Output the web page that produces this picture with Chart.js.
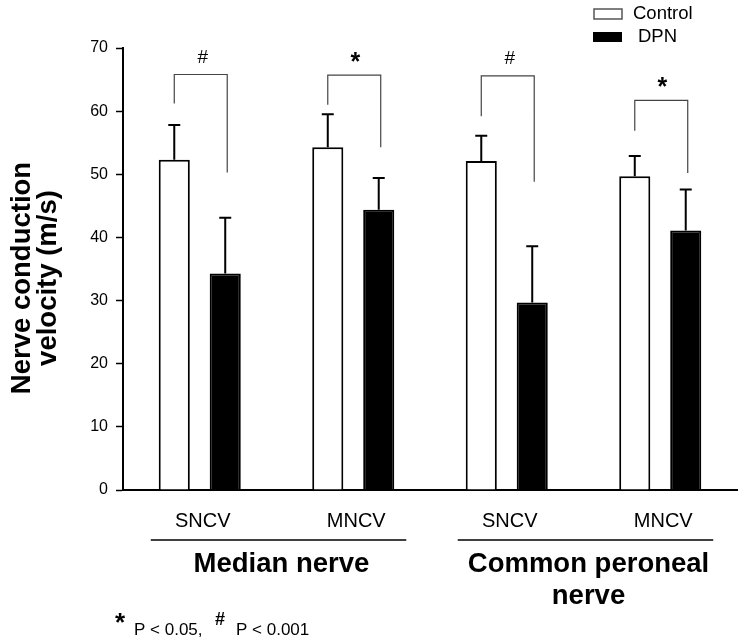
<!DOCTYPE html>
<html>
<head>
<meta charset="utf-8">
<script src="https://cdn.jsdelivr.net/npm/chart.js@4.4.1/dist/chart.umd.min.js"></script>
<style>
    html, body { margin: 0; padding: 0; background: #fff; }
</style>
</head>
<body>
<canvas id="nerve_chart" width="745" height="643"></canvas>
<script>
const categories = ["SNCV", "MNCV", "SNCV", "MNCV"];
const group_labels = [["Median nerve"], ["Common peroneal", "nerve"]];
const series_names = ["Control", "DPN"];

const control_means = [52.3, 54.3, 52.1, 49.7];
const control_sd = [5.5, 5.2, 4.0, 3.2];
const dpn_means = [34.3, 44.4, 29.7, 41.1];
const dpn_sd = [8.8, 5.0, 8.9, 6.5];

const y_ticks = [0, 10, 20, 30, 40, 50, 60, 70];

// significance brackets: left leg bottom, top, right leg bottom (axis units)
const bracket_left = [61.2, 61.0, 59.2, 56.9];
const bracket_top = [65.8, 65.7, 65.6, 61.7];
const bracket_right = [50.3, 54.3, 48.8, 50.2];
const sig_marks = ["#", "*", "#", "*"];

const FONT = "Arial, 'Liberation Sans', sans-serif";

const extras = {
    id: "extras",
    afterDatasetsDraw(chart) {
        const ctx = chart.ctx;
        const y = chart.scales.y;
        const errs = [control_sd, dpn_sd];
        const means = [control_means, dpn_means];

        ctx.save();
        ctx.strokeStyle = "#000";
        ctx.lineWidth = 2;
        [0, 1].forEach(i => {
            chart.getDatasetMeta(i).data.forEach((bar, j) => {
                const top = y.getPixelForValue(means[i][j] + errs[i][j]);
                ctx.beginPath();
                ctx.moveTo(bar.x, bar.y);
                ctx.lineTo(bar.x, top);
                ctx.moveTo(bar.x - 6, top);
                ctx.lineTo(bar.x + 6, top);
                ctx.stroke();
            });
        });

        // brackets
        const c_bars = chart.getDatasetMeta(0).data;
        const d_bars = chart.getDatasetMeta(1).data;
        ctx.strokeStyle = "#444";
        ctx.lineWidth = 1.2;
        ctx.fillStyle = "#000";
        ctx.textAlign = "center";
        ctx.textBaseline = "middle";
        categories.forEach((c, j) => {
            const x0 = c_bars[j].x;
            const x1 = d_bars[j].x + 2;
            const yt = y.getPixelForValue(bracket_top[j]);
            ctx.beginPath();
            ctx.moveTo(x0, y.getPixelForValue(bracket_left[j]));
            ctx.lineTo(x0, yt);
            ctx.lineTo(x1, yt);
            ctx.lineTo(x1, y.getPixelForValue(bracket_right[j]));
            ctx.stroke();
            if (sig_marks[j] === "*") {
                ctx.font = "bold 25px " + FONT;
                ctx.fillText("*", (x0 + x1) / 2 + 1, yt - 12);
            } else {
                ctx.font = "19px " + FONT;
                ctx.fillText("#", (x0 + x1) / 2 + 2, yt - 17);
            }
        });
        ctx.restore();
    },
    afterDraw(chart) {
        const ctx = chart.ctx;
        const x = chart.scales.x;
        ctx.save();
        ctx.fillStyle = "#000";

        // y axis title
        ctx.save();
        ctx.translate(0, 278);
        ctx.rotate(-Math.PI / 2);
        ctx.font = "bold 27.5px " + FONT;
        ctx.textAlign = "center";
        ctx.textBaseline = "middle";
        ctx.fillText("Nerve conduction", 0, 22);
        ctx.fillText("velocity (m/s)", 0, 48.5);
        ctx.restore();

        // group labels under the x axis
        ctx.strokeStyle = "#000";
        ctx.lineWidth = 1.3;
        ctx.textAlign = "center";
        ctx.textBaseline = "middle";
        ctx.font = "bold 27.5px " + FONT;
        group_labels.forEach((lines, g) => {
            const a = x.getPixelForTick(g * 2);
            const b = x.getPixelForTick(g * 2 + 1);
            ctx.beginPath();
            ctx.moveTo(a - 49, 540);
            ctx.lineTo(b + 53, 540);
            ctx.stroke();
            lines.forEach((t, k) => {
                ctx.fillText(t, (a + b) / 2 + 5, 564 + k * 32);
            });
        });

        // footnote
        ctx.textAlign = "left";
        ctx.font = "bold 26px " + FONT;
        ctx.fillText("*", 115, 624);
        ctx.font = "17px " + FONT;
        ctx.fillText("P < 0.05,", 134, 630);
        ctx.font = "bold 18px " + FONT;
        ctx.fillText("#", 215, 620);
        ctx.font = "17px " + FONT;
        ctx.fillText("P < 0.001", 236, 630);

        // legend
        ctx.strokeStyle = "#555";
        ctx.lineWidth = 1.5;
        ctx.strokeRect(594, 9, 28, 10);
        ctx.fillRect(593, 32, 29, 10);
        ctx.font = "18.5px " + FONT;
        ctx.fillText(series_names[0], 633, 14);
        ctx.fillText(series_names[1], 638, 37);
        ctx.restore();
    }
};

new Chart(document.getElementById("nerve_chart"), {
    type: "bar",
    data: {
        labels: categories,
        datasets: [{
            label: series_names[0],
            data: control_means,
            backgroundColor: "#fff",
            borderColor: "#000",
            borderWidth: 2,
            categoryPercentage: 0.664,
            barPercentage: 0.61
        }, {
            label: series_names[1],
            data: dpn_means,
            backgroundColor: "#000",
            borderColor: "#000",
            borderWidth: 2,
            categoryPercentage: 0.664,
            barPercentage: 0.61
        }]
    },
    options: {
        responsive: false,
        animation: false,
        layout: { padding: { top: 48, right: 8, left: 0, bottom: 0 } },
        plugins: { legend: { display: false }, tooltip: { enabled: false } },
        scales: {
            x: {
                grid: { display: false, drawTicks: false },
                border: { color: "#000", width: 2 },
                ticks: { color: "#000", font: { family: FONT, size: 20 }, padding: 19, labelOffset: 3 },
                afterFit: s => { s.height = 153; }
            },
            y: {
                min: 0,
                max: 70,
                afterBuildTicks: s => { s.ticks = y_ticks.map(v => ({ value: v })); },
                grid: { drawOnChartArea: false, drawTicks: true, tickLength: 7, tickColor: "#000", tickWidth: 1.5 },
                border: { color: "#000", width: 2 },
                ticks: { color: "#000", font: { family: FONT, size: 16 }, padding: 8 },
                afterFit: s => { s.width = 123; }
            }
        }
    },
    plugins: [extras]
});
</script>
</body>
</html>
